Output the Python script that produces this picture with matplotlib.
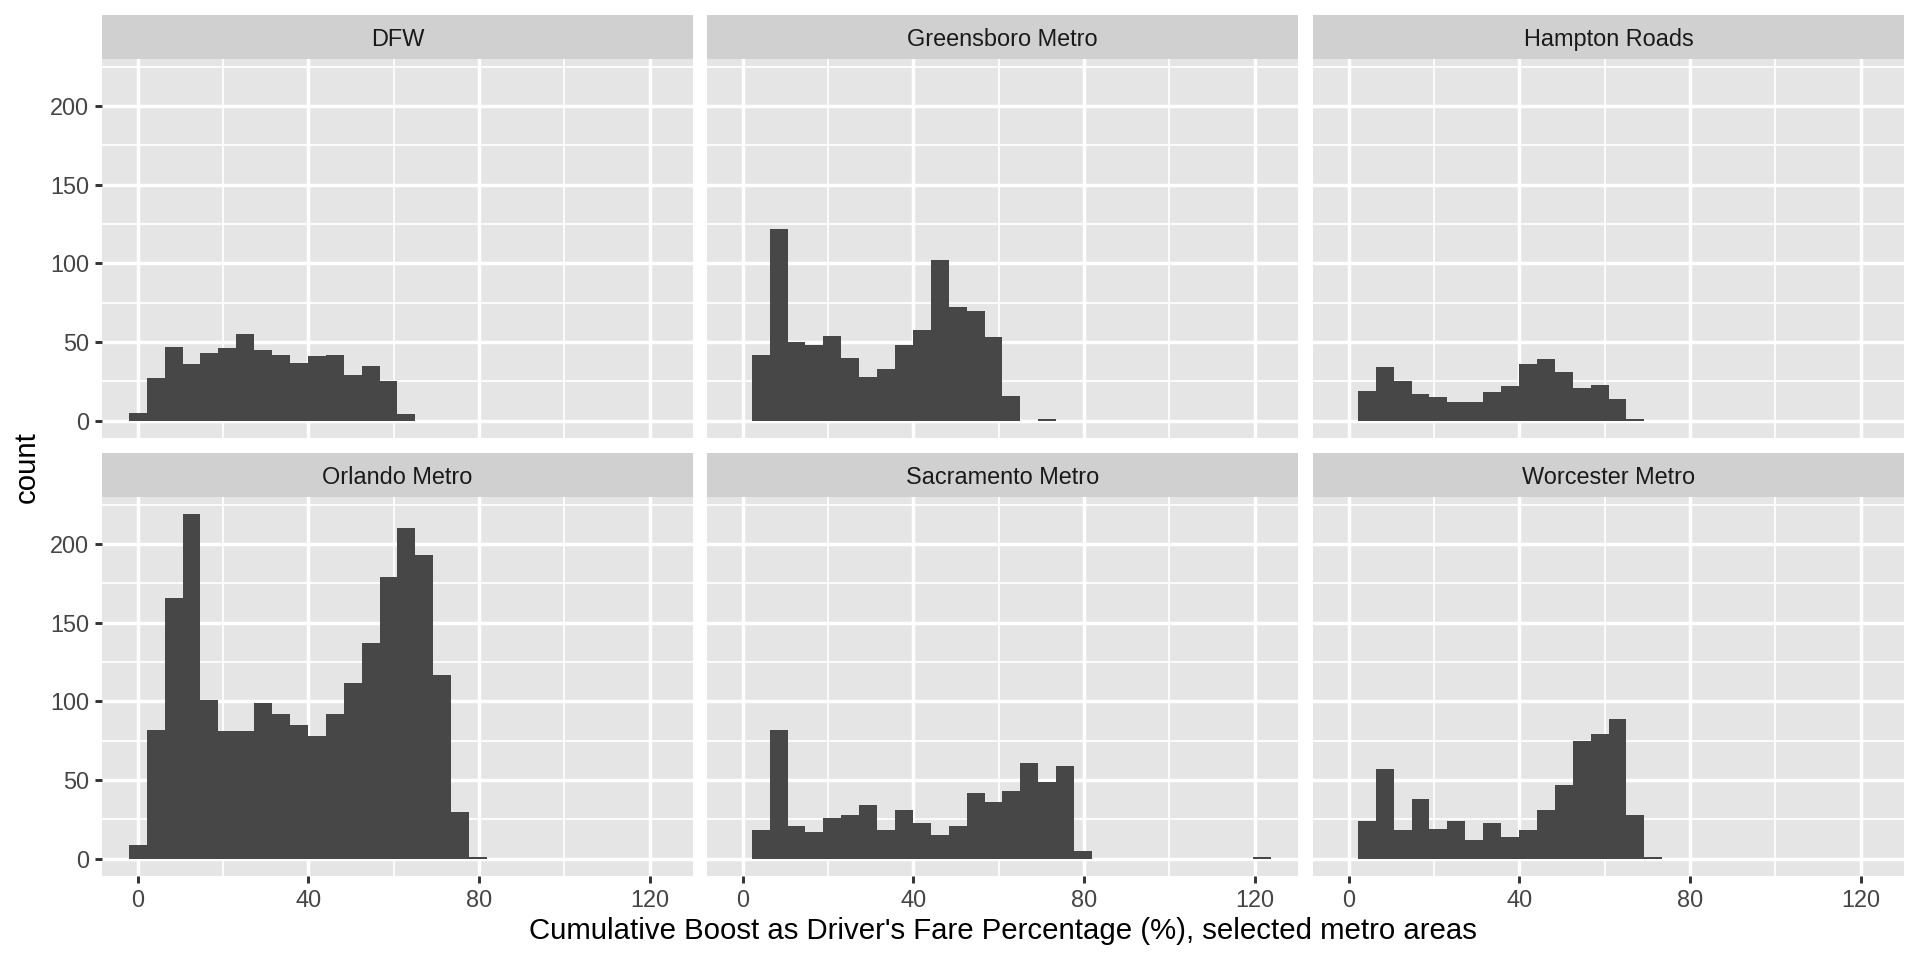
import numpy as np
import matplotlib
matplotlib.use("Agg")
import matplotlib.pyplot as plt
from matplotlib.ticker import MultipleLocator

plt.rcParams['font.family'] = ['Liberation Sans', 'DejaVu Sans']

# histogram counts per bin (30 bins, width 4.2, first edge -2.1)
metros = ["DFW", "Greensboro Metro", "Hampton Roads",
          "Orlando Metro", "Sacramento Metro", "Worcester Metro"]
bin_width = 4.2
first_edge = -2.1

dfw = [5, 27, 47, 36, 43, 46, 55, 45, 42, 37, 41, 42, 29, 35, 25, 4,
       0, 0, 0, 0, 0, 0, 0, 0, 0, 0, 0, 0, 0, 0]
greensboro = [0, 42, 122, 50, 48, 54, 40, 28, 33, 48, 58, 102, 72, 70, 53, 16,
              0, 1, 0, 0, 0, 0, 0, 0, 0, 0, 0, 0, 0, 0]
hampton = [0, 19, 34, 25, 17, 15, 12, 12, 18, 22, 36, 39, 31, 21, 23, 14,
           1, 0, 0, 0, 0, 0, 0, 0, 0, 0, 0, 0, 0, 0]
orlando = [9, 82, 166, 219, 101, 81, 81, 99, 92, 85, 78, 92, 112, 137, 179, 210,
           193, 117, 30, 1, 0, 0, 0, 0, 0, 0, 0, 0, 0, 0]
sacramento = [0, 18, 82, 21, 17, 26, 28, 34, 18, 31, 23, 15, 21, 42, 36, 43,
              61, 49, 59, 5, 0, 0, 0, 0, 0, 0, 0, 0, 0, 1]
worcester = [0, 24, 57, 18, 38, 19, 24, 12, 23, 14, 18, 31, 47, 75, 79, 89,
             28, 1, 0, 0, 0, 0, 0, 0, 0, 0, 0, 0, 0, 0]
counts = [dfw, greensboro, hampton, orlando, sacramento, worcester]

x_ticks = [0, 40, 80, 120]
y_ticks = [0, 50, 100, 150, 200]

edges = first_edge + bin_width * np.arange(len(dfw) + 1)
xspan = edges[-1] - edges[0]
xlim = (edges[0] - 0.05 * xspan, edges[-1] + 0.05 * xspan)
ymax = max(max(c) for c in counts)
ylim = (-0.05 * ymax, ymax * 1.05)

panel_bg = '#E5E5E5'
strip_bg = '#D0D0D0'
bar_col = '#474747'
tick_col = '#333333'
lab_col = '#454545'

W, H = 1920, 960
fig = plt.figure(figsize=(10, 5), dpi=192)

lefts = [102, 707, 1313]
pw = 591
tops = [59, 497]
ph = 379
strip_h = 44

for i, (name, c) in enumerate(zip(metros, counts)):
    r, col = divmod(i, 3)
    x0 = lefts[col]
    y0 = tops[r]
    ax = fig.add_axes([x0 / W, 1 - (y0 + ph) / H, pw / W, ph / H])
    ax.set_facecolor(panel_bg)
    ax.stairs(c, edges, fill=True, color=bar_col, linewidth=0)
    ax.set_xlim(*xlim)
    ax.set_ylim(*ylim)
    ax.set_xticks(x_ticks)
    ax.set_yticks(y_ticks)
    ax.xaxis.set_minor_locator(MultipleLocator(20))
    ax.yaxis.set_minor_locator(MultipleLocator(25))
    ax.set_axisbelow(True)
    ax.grid(which='major', color='white', linewidth=1.3)
    ax.grid(which='minor', color='white', linewidth=0.65)
    for s in ax.spines.values():
        s.set_visible(False)
    ax.tick_params(which='minor', length=0)
    ax.tick_params(which='major', length=2.75, width=1.1, color=tick_col,
                   labelcolor=lab_col, labelsize=8.8, pad=2.2)
    if r == 0:
        ax.tick_params(axis='x', length=0, labelbottom=False)
    if col != 0:
        ax.tick_params(axis='y', length=0, labelleft=False)

    sax = fig.add_axes([x0 / W, 1 - y0 / H, pw / W, strip_h / H])
    sax.set_facecolor(strip_bg)
    sax.set_xticks([])
    sax.set_yticks([])
    for s in sax.spines.values():
        s.set_visible(False)
    sax.text(0.5, 0.45, name, ha='center', va='center', fontsize=8.8,
             color='#1A1A1A', transform=sax.transAxes)

fig.text((lefts[0] + lefts[2] + pw) / 2 / W, 1 - 931 / H,
         "Cumulative Boost as Driver's Fare Percentage (%), selected metro areas",
         ha='center', va='center', fontsize=11, color='black')
fig.text(27 / W, 1 - 467 / H, "count", rotation=90, ha='center', va='center',
         fontsize=11, color='black')

fig.savefig("out.png", dpi=192, facecolor='white')
